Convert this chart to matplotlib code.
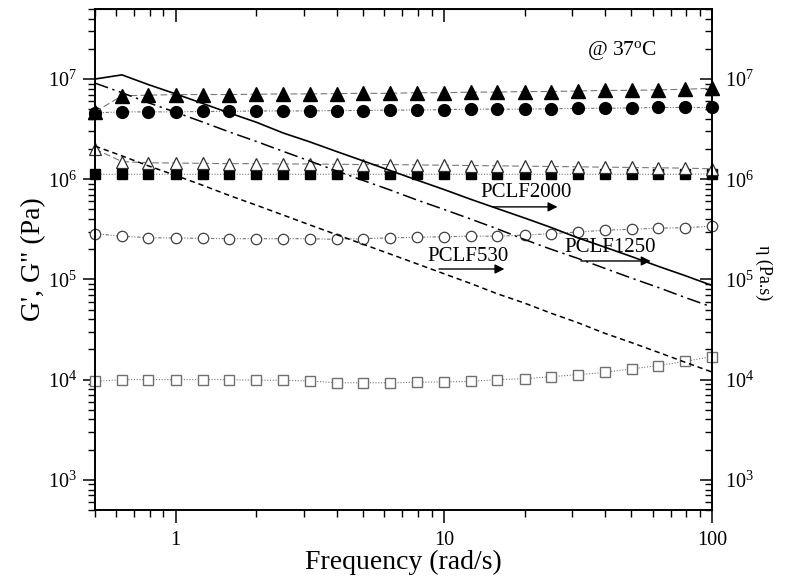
import math
import matplotlib
matplotlib.use("Agg")
import matplotlib.pyplot as plt
from matplotlib.ticker import FixedLocator, NullFormatter, FuncFormatter, LogLocator

plt.rcParams['font.family'] = ['Liberation Serif', 'DejaVu Serif']
plt.rcParams['mathtext.fontset'] = 'custom'
plt.rcParams['mathtext.rm'] = 'Liberation Serif'
plt.rcParams['mathtext.it'] = 'Liberation Serif:italic'

# frequency sweep (rad/s)
freq = [0.5, 0.63, 0.79, 1.0, 1.26, 1.58, 2.0, 2.51, 3.16, 3.98, 5.01, 6.31,
        7.94, 10.0, 12.6, 15.8, 20.0, 25.1, 31.6, 39.8, 50.1, 63.1, 79.4, 100]

# G' / G'' (Pa)
g_tri_filled = [4.7e6, 6.8e6, 6.9e6, 7.0e6, 7.0e6, 7.0e6, 7.05e6, 7.1e6, 7.1e6, 7.15e6,
                7.2e6, 7.2e6, 7.3e6, 7.3e6, 7.4e6, 7.4e6, 7.5e6, 7.5e6, 7.6e6, 7.7e6,
                7.7e6, 7.8e6, 7.9e6, 8.1e6]
g_circ_filled = [4.6e6, 4.7e6, 4.7e6, 4.7e6, 4.75e6, 4.75e6, 4.8e6, 4.8e6, 4.8e6, 4.85e6,
                 4.85e6, 4.9e6, 4.9e6, 4.95e6, 5.0e6, 5.0e6, 5.0e6, 5.05e6, 5.1e6, 5.1e6,
                 5.15e6, 5.2e6, 5.2e6, 5.2e6]
g_tri_open = [2.0e6, 1.5e6, 1.46e6, 1.45e6, 1.44e6, 1.43e6, 1.43e6, 1.42e6, 1.42e6, 1.41e6,
              1.4e6, 1.4e6, 1.39e6, 1.38e6, 1.37e6, 1.36e6, 1.35e6, 1.34e6, 1.33e6, 1.32e6,
              1.31e6, 1.3e6, 1.29e6, 1.27e6]
g_sq_filled = [1.12e6, 1.12e6, 1.12e6, 1.12e6, 1.12e6, 1.12e6, 1.12e6, 1.12e6, 1.12e6, 1.12e6,
               1.12e6, 1.12e6, 1.12e6, 1.12e6, 1.12e6, 1.12e6, 1.12e6, 1.12e6, 1.12e6, 1.12e6,
               1.12e6, 1.12e6, 1.12e6, 1.13e6]
g_circ_open = [2.86e5, 2.7e5, 2.61e5, 2.59e5, 2.57e5, 2.55e5, 2.55e5, 2.55e5, 2.55e5, 2.51e5,
               2.55e5, 2.6e5, 2.63e5, 2.67e5, 2.7e5, 2.7e5, 2.77e5, 2.86e5, 2.97e5, 3.1e5,
               3.16e5, 3.25e5, 3.28e5, 3.4e5]
g_sq_open = [9.6e3, 1.0e4, 1.0e4, 1.0e4, 1.0e4, 1.0e4, 9.85e3, 9.85e3, 9.7e3, 9.3e3,
             9.3e3, 9.3e3, 9.4e3, 9.5e3, 9.6e3, 1.0e4, 1.02e4, 1.07e4, 1.12e4, 1.18e4,
             1.28e4, 1.38e4, 1.52e4, 1.7e4]

# complex viscosity (Pa.s)
eta_2000 = [1.0e7, 1.1e7, 8.8e6, 7.1e6, 5.7e6, 4.6e6, 3.7e6, 2.9e6, 2.36e6, 1.89e6,
            1.52e6, 1.22e6, 9.8e5, 7.9e5, 6.3e5, 5.1e5, 4.1e5, 3.3e5, 2.6e5, 2.1e5,
            1.69e5, 1.35e5, 1.09e5, 8.7e4]
eta_1250 = [9.1e6, 7.3e6, 5.8e6, 4.66e6, 3.72e6, 2.97e6, 2.38e6, 1.9e6, 1.52e6, 1.21e6,
            9.7e5, 7.8e5, 6.2e5, 5.0e5, 4.0e5, 3.2e5, 2.5e5, 2.0e5, 1.62e5, 1.29e5,
            1.03e5, 8.3e4, 6.6e4, 5.3e4]
eta_530 = [2.14e6, 1.71e6, 1.36e6, 1.09e6, 8.7e5, 6.9e5, 5.5e5, 4.4e5, 3.5e5, 2.8e5,
           2.24e5, 1.79e5, 1.43e5, 1.14e5, 9.1e4, 7.2e4, 5.8e4, 4.6e4, 3.7e4, 2.9e4,
           2.34e4, 1.87e4, 1.49e4, 1.19e4]

fig = plt.figure(figsize=(7.86, 5.87), dpi=100)
ax = fig.add_axes([0.1209, 0.1312, 0.785, 0.8535])

conn = dict(color='#777777', lw=0.8, clip_on=False)
ax.plot(freq, g_sq_open, marker='s', ms=7.5, mfc='white', mec='#707070', mew=1.0,
        ls=(0, (1, 1.5)), **conn)
ax.plot(freq, g_circ_open, marker='o', ms=7.5, mfc='white', mec='#404040', mew=0.9,
        ls=(0, (3, 1.5, 1, 1.5, 1, 1.5)), **conn)
ax.plot(freq, g_sq_filled, marker='s', ms=7.5, mfc='black', mec='black',
        ls=(0, (1, 1.5)), **conn)
ax.plot(freq, g_tri_open, marker='^', ms=9, mfc='white', mec='#303030', mew=0.9,
        ls=(0, (6, 3)), **conn)
ax.plot(freq, g_circ_filled, marker='o', ms=8.5, mfc='black', mec='black',
        ls=(0, (3, 1.5, 1, 1.5, 1, 1.5)), **conn)
ax.plot(freq, g_tri_filled, marker='^', ms=10.5, mfc='black', mec='black',
        ls=(0, (6, 3)), **conn)

ax2 = ax.twinx()
ax2.plot(freq, eta_2000, color='black', lw=1.2, ls='-')
ax2.plot(freq, eta_1250, color='black', lw=1.1, ls=(0, (9, 3, 1.5, 3)))
ax2.plot(freq, eta_530, color='black', lw=1.1, ls=(0, (3.5, 2.5)))

for a in (ax, ax2):
    a.set_xscale('log')
    a.set_yscale('log')
    a.set_xlim(0.5, 100)
    a.set_ylim(500, 5e7)
    a.yaxis.set_major_locator(FixedLocator([1e3, 1e4, 1e5, 1e6, 1e7]))
    a.yaxis.set_minor_locator(LogLocator(base=10, subs=range(2, 10), numticks=20))
    a.yaxis.set_major_formatter(FuncFormatter(lambda v, p: r'$10^{%d}$' % round(math.log10(v))))
    a.yaxis.set_minor_formatter(NullFormatter())
    for s in a.spines.values():
        s.set_linewidth(1.2)

ax.xaxis.set_major_locator(FixedLocator([1, 10, 100]))
ax.xaxis.set_minor_locator(LogLocator(base=10, subs=range(2, 10), numticks=20))
ax.xaxis.set_major_formatter(FuncFormatter(lambda v, p: '%g' % v))
ax.xaxis.set_minor_formatter(NullFormatter())

ax.tick_params(axis='both', which='major', direction='out', length=9, width=1.1,
               labelsize=14.5, pad=4, top=False, right=False)
ax.tick_params(axis='both', which='minor', direction='out', length=5, width=1.0,
               top=False, right=False)
ax.tick_params(axis='x', which='major', pad=6)

ax2.tick_params(axis='y', which='major', direction='in', length=9, width=1.1,
                labelsize=14.5, pad=9)
ax2.tick_params(axis='y', which='minor', direction='in', length=5, width=1.0)

top = ax.secondary_xaxis('top')
top.set_xscale('log')
top.xaxis.set_major_locator(FixedLocator([1, 10, 100]))
top.xaxis.set_minor_locator(LogLocator(base=10, subs=range(2, 10), numticks=20))
top.xaxis.set_major_formatter(NullFormatter())
top.xaxis.set_minor_formatter(NullFormatter())
top.tick_params(which='major', direction='in', length=9, width=1.1)
top.tick_params(which='minor', direction='in', length=5, width=1.0)

ax.set_xlabel('Frequency (rad/s)', fontsize=20, labelpad=0)
ax.set_ylabel('G\', G" (Pa)', fontsize=20, labelpad=1)
ax2.set_ylabel('η (Pa.s)', fontsize=13, rotation=270, labelpad=12)
ax2.yaxis.set_label_coords(1.098, 0.474)

ax.text(0.911, 0.918, r'@ 37$^{\rm o}$C', transform=ax.transAxes, fontsize=15.5,
        ha='right', va='center')

arrow = dict(arrowstyle='-|>', color='black', lw=1.0, mutation_scale=14)
ax.text(0.698, 0.633, 'PCLF2000', transform=ax.transAxes, fontsize=15, ha='center', va='center')
ax.annotate('', xy=(0.754, 0.605), xytext=(0.640, 0.605), xycoords='axes fraction',
            arrowprops=arrow)
ax.text(0.835, 0.523, 'PCLF1250', transform=ax.transAxes, fontsize=15, ha='center', va='center')
ax.annotate('', xy=(0.905, 0.497), xytext=(0.783, 0.497), xycoords='axes fraction',
            arrowprops=arrow)
ax.text(0.605, 0.505, 'PCLF530', transform=ax.transAxes, fontsize=15, ha='center', va='center')
ax.annotate('', xy=(0.668, 0.481), xytext=(0.553, 0.481), xycoords='axes fraction',
            arrowprops=arrow)

fig.savefig('out.png', dpi=100)
